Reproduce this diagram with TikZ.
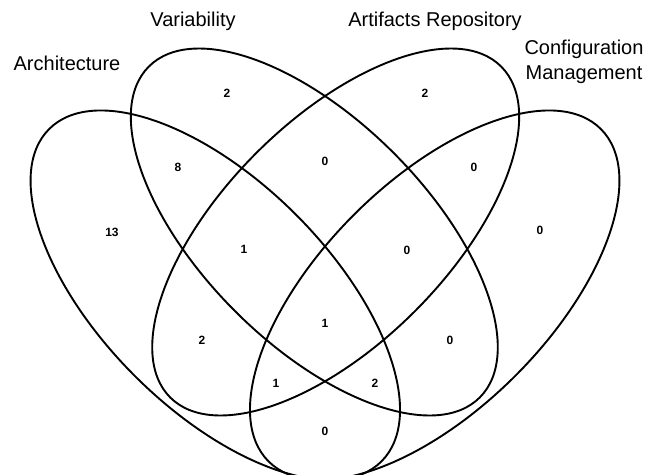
\documentclass[tikz,border=0pt]{standalone}
\usepackage{fontspec}
\setmainfont{Liberation Sans}
\usepackage{tikz}

\begin{document}
\begin{tikzpicture}[
    x=1pt, y=-1pt,
    venn/.style={draw, line width=1.9pt},
    setname/.style={font=\fontsize{20}{25}\selectfont, align=center, inner sep=0pt},
    count/.style={font=\fontsize{12}{14}\selectfont\bfseries, inner sep=0pt}
]
\useasboundingbox (0,0) rectangle (645,474);
\clip (0,0) rectangle (645,474);

% the four sets
\draw[venn, rotate around={-45:(215.3,295.2)}] (215.3,295.2) ellipse [x radius=235, y radius=114];
\draw[venn, rotate around={-45:(314.3,232)}] (314.3,232) ellipse [x radius=234, y radius=112];
\draw[venn, rotate around={45:(335.7,232)}] (335.7,232) ellipse [x radius=234, y radius=112];
\draw[venn, rotate around={45:(434.7,295.2)}] (434.7,295.2) ellipse [x radius=235, y radius=114];

\node[setname] (arch) at (67,63) {Architecture};
\node[setname] (var) at (193,21) {Variability};
\node[setname] (art) at (435,21) {Artifacts Repository};
\node[setname] (conf) at (584,62) {Configuration\\Management};

\node[count] (a) at (112,232) {13};
\node[count] (v) at (227,93) {2};
\node[count] (r) at (425,93) {2};
\node[count] (c) at (540,230) {0};
\node[count] (av) at (178,167) {8};
\node[count] (vr) at (325,161) {0};
\node[count] (rc) at (474,167) {0};
\node[count] (avr) at (244,249) {1};
\node[count] (vrc) at (407,250) {0};
\node[count] (avrc) at (325,323) {1};
\node[count] (ar) at (202,340) {2};
\node[count] (vc) at (450,340) {0};
\node[count] (arc) at (276,383) {1};
\node[count] (avc) at (375,383) {2};
\node[count] (ac) at (325,431) {0};
\end{tikzpicture}
\end{document}
